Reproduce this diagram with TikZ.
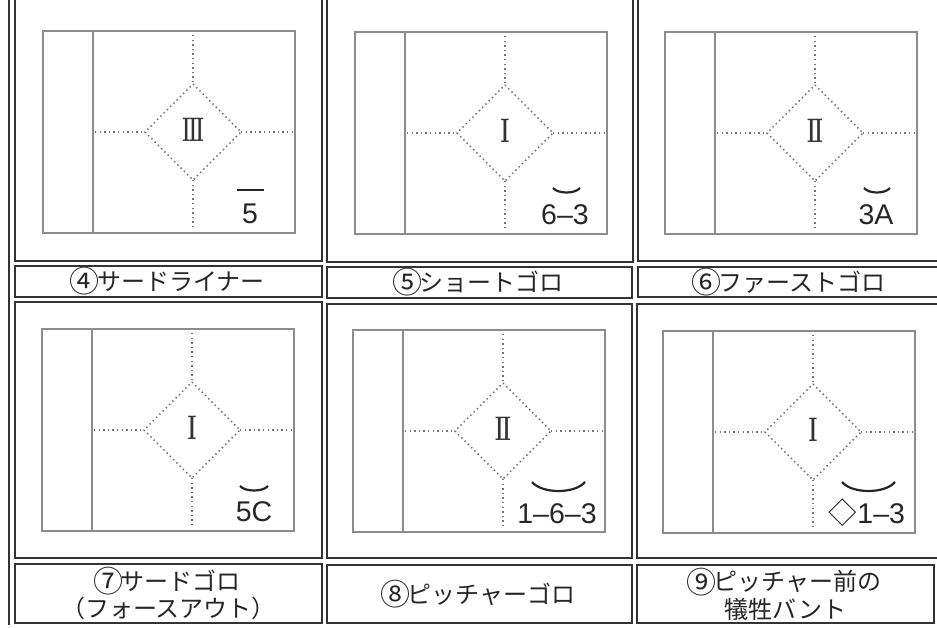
\documentclass[tikz,border=0pt]{standalone}
\usepackage{fontspec}
\newfontfamily\jp{Noto Sans CJK JP}
\newfontfamily\dg{Liberation Sans}
\newcommand\cn[1]{\kern-0.1em\raisebox{-0.1em}{\scalebox{1.25}{#1}}\kern-0.12em}
\newcommand\numstroke{\fontsize{34}{34}\selectfont\bfseries I}
\newcommand\romI{\scalebox{0.62}[1]{\numstroke}}
\newcommand\romII{\scalebox{0.6}[1]{\numstroke\kern-2pt\numstroke}}
\newcommand\romIII{\scalebox{0.55}[1]{\numstroke\kern-2pt\numstroke\kern-2pt\numstroke}}
\tikzset{
  cellbox/.style={draw=black!80, line width=1.3pt},
  fieldbox/.style={draw=black!45, line width=2pt},
  dotline/.style={draw=black!55, line width=1.6pt, dash pattern=on 1.4pt off 3.2pt},
  numeral/.style={text=black!80, inner sep=0pt},
  playtext/.style={font=\dg\fontsize{28.5}{28}\selectfont, text=black!85, inner sep=0pt, anchor=base},
  smile/.style={draw=black!85, line width=2.2pt},
  lblbox/.style={draw=black!80, line width=1.3pt, font=\jp\fontsize{24}{27.5}\selectfont, align=center, text=black!85, inner sep=0pt},
}
\newcommand\fieldpanel[4]{%
  \begin{scope}[shift={(#1,#2)}]
    \draw[fieldbox] (0,0) rectangle (252,202);
    \draw[fieldbox] (50,0) -- (50,202);
    \coordinate (#4t) at (150,53);
    \coordinate (#4b) at (150,149);
    \coordinate (#4l) at (102,101);
    \coordinate (#4r) at (198,101);
    \coordinate (#4top) at (150,4);
    \coordinate (#4bot) at (150,198);
    \coordinate (#4in) at (52,101);
    \coordinate (#4out) at (250,101);
    \draw[dotline] (#4t) -- (#4r) -- (#4b) -- (#4l) -- cycle;
    \draw[dotline] (#4top) -- (#4t);
    \draw[dotline] (#4b) -- (#4bot);
    \draw[dotline] (#4in) -- (#4l);
    \draw[dotline] (#4r) -- (#4out);
    \node[numeral] (#4n) at (150,99) {#3};
  \end{scope}}
\begin{document}
\begin{tikzpicture}[x=1pt,y=-1pt]
\useasboundingbox (0,0) rectangle (937,627);
\clip (0,0) rectangle (937,627);
% outer line
\coordinate (o1) at (9,0);
\coordinate (o2) at (9,625);
\draw[draw=black!80, line width=1.3pt] (o1) -- (o2);
% cells
\draw[cellbox] (15,-10) rectangle (322,261);
\draw[cellbox] (327,-10) rectangle (633,262);
\draw[cellbox] (638,-10) rectangle (950,261);
\draw[cellbox] (15,302) rectangle (322,558);
\draw[cellbox] (327,304) rectangle (632,558);
\draw[cellbox] (637,304) rectangle (950,558);
% labels
\node[lblbox, minimum width=307pt, minimum height=31pt] (lab4) at (168.5,281.5) {\cn{④}サードライナー};
\node[lblbox, minimum width=305pt, minimum height=31pt] (lab5) at (479.5,282.5) {\cn{⑤}ショートゴロ};
\node[lblbox, minimum width=303pt, minimum height=30pt] (lab6) at (789.5,282) {\cn{⑥}ファーストゴロ};
\node[lblbox, minimum width=307pt, minimum height=59pt] (lab7) at (168.5,593.5) {\cn{⑦}サードゴロ\\（フォースアウト）};
\node[lblbox, minimum width=305pt, minimum height=58pt] (lab8) at (479.5,594) {\cn{⑧}ピッチャーゴロ};
\node[lblbox, minimum width=297pt, minimum height=58pt] (lab9) at (785.5,594) {\cn{⑨}ピッチャー前の\\犠牲バント};
% panels
\fieldpanel{43}{31}{\romIII}{pa}
\fieldpanel{355}{32}{\romI}{pb}
\fieldpanel{665}{32}{\romII}{pc}
\fieldpanel{42}{329}{\romI}{pd}
\fieldpanel{353}{330}{\romII}{pe}
\fieldpanel{663}{331}{\romI}{pf}
% play notations
\node[playtext] (ma) at (250,223) {5};
\coordinate (ma1) at (237,190);
\coordinate (ma2) at (264,190);
\draw[smile] (ma1) -- (ma2);
\node[playtext] (mb) at (565,224) {6–3};
\coordinate (mb1) at (553,188);
\coordinate (mb2) at (580,188);
\draw[smile] (mb1) .. controls (558,194) and (575,194) .. (mb2);
\node[playtext] (mc) at (876,224) {3A};
\coordinate (mc1) at (864,188);
\coordinate (mc2) at (890,188);
\draw[smile] (mc1) .. controls (869,194) and (885,194) .. (mc2);
\node[playtext] (md) at (254,521) {5C};
\coordinate (md1) at (240,486);
\coordinate (md2) at (268,486);
\draw[smile] (md1) .. controls (245,492) and (263,492) .. (md2);
\node[playtext] (me) at (557,523) {1–6–3};
\coordinate (me1) at (532,482);
\coordinate (me2) at (585,482);
\draw[smile] (me1) .. controls (542,494) and (575,494) .. (me2);
\node[playtext] (mf) at (867,523) {{\jp ◇}1–3};
\coordinate (mf1) at (842,482);
\coordinate (mf2) at (895,482);
\draw[smile] (mf1) .. controls (852,494) and (885,494) .. (mf2);
\end{tikzpicture}
\end{document}
